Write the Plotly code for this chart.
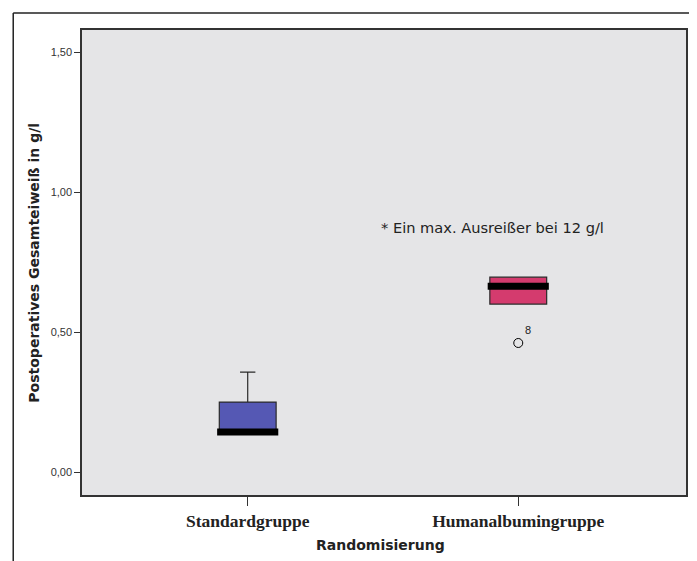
import plotly.graph_objects as go

categories = ["Standardgruppe", "Humanalbumingruppe"]
positions = [0, 1]
q1 = [0.143, 0.600]
median = [0.143, 0.664]
q3 = [0.250, 0.696]
lowerfence = [0.143, 0.600]
upperfence = [0.357, 0.696]
box_colors = ["#5558b4", "#d43b6e"]
outlier_x = [1]
outlier_y = [0.461]
outlier_labels = ["8"]
y_ticks = [0.0, 0.5, 1.0, 1.5]
y_ticklabels = ["0,00", "0,50", "1,00", "1,50"]

BOX_W = 0.21

# page body has an 8px margin: the figure origin sits at (8, 8)
L, T, PW, PH = 74, 22, 606, 465
W, H = 689, 553

fig = go.Figure()
for i in range(2):
    fig.add_trace(go.Box(
        x=[positions[i]], q1=[q1[i]], median=[median[i]], q3=[q3[i]],
        lowerfence=[lowerfence[i]], upperfence=[upperfence[i]],
        width=BOX_W, whiskerwidth=0.27, fillcolor=box_colors[i],
        line=dict(color="#2a2a2a", width=1.2), boxpoints=False,
        showlegend=False, hoverinfo="skip"))
    fig.add_trace(go.Scatter(
        x=[positions[i] - BOX_W / 2 - 0.008, positions[i] + BOX_W / 2 + 0.008],
        y=[median[i], median[i]], mode="lines",
        line=dict(color="black", width=7), showlegend=False, hoverinfo="skip"))

fig.add_trace(go.Scatter(
    x=outlier_x, y=outlier_y, mode="markers+text",
    marker=dict(symbol="circle-open", size=9, color="black", line=dict(width=1)),
    text=outlier_labels, textposition="top right",
    textfont=dict(family="Liberation Sans, Arial", size=11, color="#222"),
    showlegend=False, hoverinfo="skip"))

fig.add_annotation(x=0.487, y=0.875, xref="x", yref="y", xanchor="left", yanchor="middle",
                   text="* Ein max. Ausreißer bei 12 g/l", showarrow=False,
                   font=dict(family="DejaVu Sans", size=14.6, color="#222"))

def px_x(p):
    return (p - 8 - L) / PW

def px_y(p):
    return 1 - (p - 8 - T) / PH

fig.add_annotation(x=px_x(33), y=0.5, xref="paper", yref="paper", textangle=-90,
                   text="<b>Postoperatives Gesamteiweiß in g/l</b>", showarrow=False,
                   xanchor="center", yanchor="middle",
                   font=dict(family="DejaVu Sans", size=14, color="#222"))
fig.add_annotation(x=px_x(381), y=px_y(545), xref="paper", yref="paper",
                   text="<b>Randomisierung</b>", showarrow=False,
                   xanchor="center", yanchor="middle",
                   font=dict(family="DejaVu Sans", size=14, color="#222"))

fig.add_shape(type="line", xref="paper", yref="paper",
              x0=px_x(13), x1=px_x(13), y0=px_y(13), y1=px_y(575),
              line=dict(color="#222", width=1.5))
fig.add_shape(type="line", xref="paper", yref="paper",
              x0=px_x(13), x1=px_x(710), y0=px_y(13), y1=px_y(13),
              line=dict(color="#222", width=1.5))

fig.update_xaxes(range=[-0.6125, 1.62], tickvals=positions,
                 ticktext=["<b>" + c + "</b>" for c in categories],
                 ticks="outside", ticklen=9, tickcolor="#333", tickwidth=1.2,
                 showgrid=False, zeroline=False, showline=True, linecolor="#333",
                 linewidth=1.5, mirror=True,
                 tickfont=dict(family="Liberation Serif, Times New Roman", size=17.5, color="#222"))
fig.update_yaxes(range=[-0.082, 1.579], tickvals=y_ticks, ticktext=y_ticklabels,
                 ticks="outside", ticklen=6, tickcolor="#333", tickwidth=1.2,
                 showgrid=False, zeroline=False, showline=True, linecolor="#333",
                 linewidth=1.5, mirror=True,
                 tickfont=dict(family="Liberation Sans, Arial", size=11, color="#333"))

fig.update_layout(width=W, height=H, margin=dict(l=L, r=W - L - PW, t=T, b=H - T - PH),
                  plot_bgcolor="#e5e5e7", paper_bgcolor="white", showlegend=False)

fig.write_html("out.html")
